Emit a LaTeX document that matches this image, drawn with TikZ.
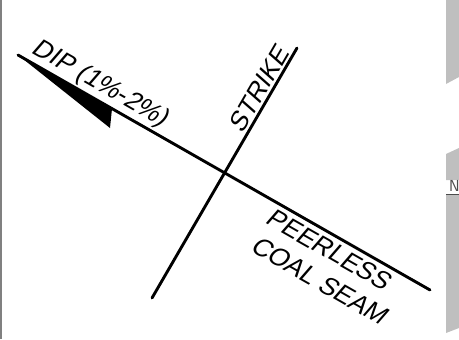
\documentclass[tikz,border=0pt]{standalone}
\usepackage{fontspec}
\newfontfamily\cadfont[FakeSlant=0.2]{Liberation Sans}

\begin{document}
\begin{tikzpicture}[x=1bp,y=1bp,
    seam/.style={line width=2.9pt,line cap=round},
    lbl/.style={font=\cadfont\fontsize{26}{32}\selectfont,inner sep=1pt},
    panel/.style={fill=black!25,draw=none}]
  \useasboundingbox (0,0) rectangle (459,339);
  % frame edge and the bits of the next figure
  \draw[black!50,line width=1.5bp] (0.75,0)--(0.75,339);
  \fill[panel] (446,255)--(459,262)--(459,339)--(446,339)--cycle;
  \fill[panel] (446,185)--(459,191)--(459,159)--(446,159)--cycle;
  \fill[panel] (446,145)--(459,145)--(459,11)--(446,6)--cycle;
  \draw[black!70] (446,145)--(459,145);
  \node[black!70,anchor=south west,inner sep=0pt,
    font=\sffamily\fontsize{16}{16}\selectfont] (n) at (449,147) {N};
  % end points
  \coordinate (diptip) at (18,284);
  \coordinate (dipend) at (430,49);
  \coordinate (strbot) at (152,41);
  \coordinate (strtop) at (297,291);
  \coordinate (barb) at (110,211);
  \coordinate (barbtop) at (112,230.4);
  % dip line, half arrow at its tip
  \draw[seam] (diptip) -- node[lbl,sloped,above=1pt,pos=0.18] (dip) {DIP (1\%-2\%)}
    node[lbl,sloped,below=3pt,pos=0.787,align=left] (seamname) {PEERLESS\\COAL SEAM} (dipend);
  \fill (diptip) -- (barb) -- (barbtop) -- cycle;
  % strike
  \draw[seam] (strbot) -- node[lbl,sloped,above=1pt,pos=0.81] (strike) {STRIKE} (strtop);
\end{tikzpicture}
\end{document}
